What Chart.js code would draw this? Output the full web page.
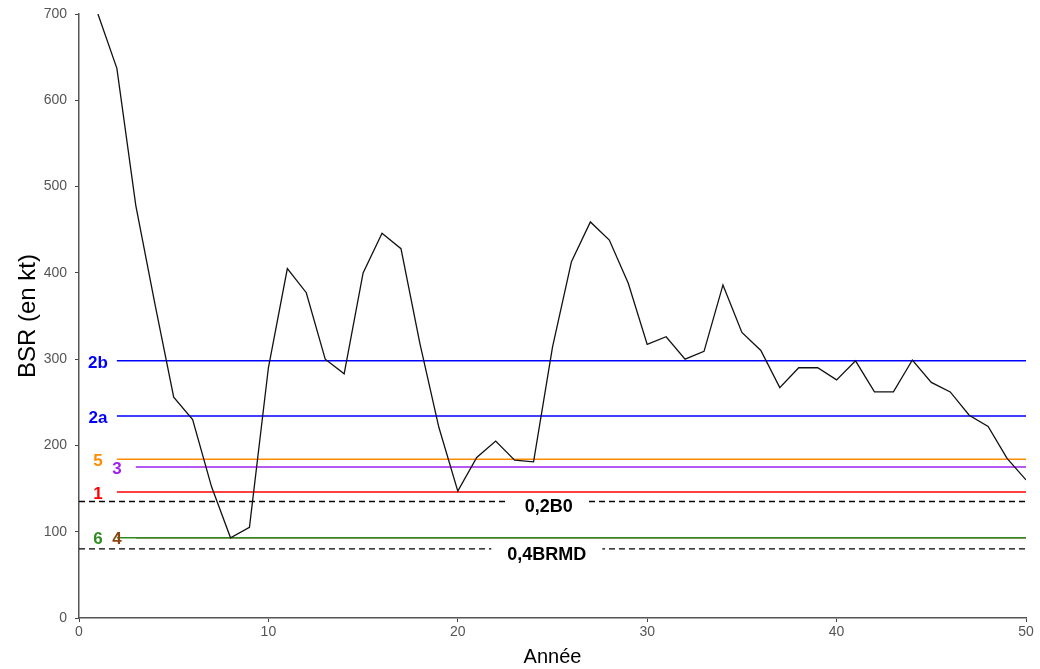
<!DOCTYPE html>
<html>
<head>
<meta charset="utf-8">
<script src="https://cdn.jsdelivr.net/npm/chart.js@4"></script>
<style>
  html, body { margin: 0; padding: 0; background: #fff; }
  #wrap { width: 1040px; height: 669px; }
</style>
</head>
<body>
<div id="wrap"><canvas id="myChart" width="1040" height="669"></canvas></div>
<script>
// données
const annees = [];
for (let i = 1; i <= 50; i++) annees.push(i);
const bsr = [700, 637, 478, 365, 256, 230, 152, 93, 105, 290,
             405, 377, 300, 283, 400, 446, 428, 318, 221, 147,
             186, 205, 183, 181, 314, 413, 459, 438, 388, 317,
             326, 300, 309, 386, 331, 310, 267, 290, 290, 276,
             298, 262, 262, 299, 273, 262, 235, 222, 185, 160];

// seuils (nom, valeur, année de départ, couleur)
const seuilNoms = ['2b', '2a', '5', '3', '1', '6', '4'];
const seuilValeurs = [298, 234, 184, 175, 146, 93, 93];
const seuilDebut = [2, 2, 2, 3, 2, 2, 3];
const seuilCouleurs = ['#0000ff', '#0000ff', '#ff8c00', '#a020f0', '#ff0000', '#2e8b22', '#8b4513'];

// références pointillées
const refNoms = ['0,2B0', '0,4BRMD'];
const refValeurs = [135, 80];
const refLabelX = [24.8, 24.7];

const ctx = document.getElementById('myChart');

const datasets = [];
datasets.push({
  label: 'BSR',
  data: annees.map((a, i) => ({ x: a, y: bsr[i] })),
  borderColor: '#111',
  borderWidth: 1.3,
  pointRadius: 0,
  tension: 0
});
seuilNoms.forEach((nom, i) => {
  datasets.push({
    label: nom,
    data: [{ x: seuilDebut[i], y: seuilValeurs[i] }, { x: 50, y: seuilValeurs[i] }],
    borderColor: seuilCouleurs[i],
    borderWidth: 1.5,
    pointRadius: 0
  });
});
refNoms.forEach((nom, i) => {
  datasets.push({
    label: nom,
    data: [{ x: 0, y: refValeurs[i] }, { x: 50, y: refValeurs[i] }],
    borderColor: '#000',
    borderWidth: 1.3,
    borderDash: [6, 4],
    pointRadius: 0
  });
});

const etiquettes = {
  id: 'etiquettes',
  afterDatasetsDraw(chart) {
    const c = chart.ctx;
    const xs = chart.scales.x, ys = chart.scales.y;
    c.save();
    c.textBaseline = 'middle';
    c.textAlign = 'center';
    c.font = 'bold 17px "Liberation Sans", Arial, sans-serif';
    seuilNoms.forEach((nom, i) => {
      c.fillStyle = seuilCouleurs[i];
      c.fillText(nom, xs.getPixelForValue(seuilDebut[i] - 1), ys.getPixelForValue(seuilValeurs[i]) + 2);
    });
    c.font = 'bold 18px "Liberation Sans", Arial, sans-serif';
    refNoms.forEach((nom, i) => {
      const px = xs.getPixelForValue(refLabelX[i]);
      const py = ys.getPixelForValue(refValeurs[i]) + 6;
      const w = c.measureText(nom).width + 32;
      c.fillStyle = '#fff';
      c.fillRect(px - w / 2, py - 10, w, 20);
      c.fillStyle = '#000';
      c.fillText(nom, px, py);
    });
    c.restore();
  }
};

new Chart(ctx, {
  type: 'line',
  data: { datasets: datasets },
  plugins: [etiquettes],
  options: {
    responsive: false,
    animation: false,
    layout: { padding: { top: 14, right: 14, left: 0, bottom: 0 } },
    plugins: { legend: { display: false }, tooltip: { enabled: false } },
    scales: {
      x: {
        type: 'linear',
        min: 0, max: 50,
        ticks: { stepSize: 10, color: '#555', font: { size: 14, family: '"Liberation Sans", Arial' }, padding: 2, maxRotation: 0 },
        grid: { drawOnChartArea: false, drawTicks: true, tickLength: 4, tickColor: '#444' },
        border: { color: '#555', width: 1.5 },
        title: { display: true, text: 'Année', color: '#000', font: { size: 20, family: '"Liberation Sans", Arial' }, padding: { top: 0, bottom: 0 } },
        afterFit(scale) { scale.height = 51; scale.paddingRight = 0; scale.paddingLeft = 0; }
      },
      y: {
        min: 0, max: 700,
        ticks: { stepSize: 100, color: '#555', font: { size: 14, family: '"Liberation Sans", Arial' }, padding: 8 },
        grid: { drawOnChartArea: false, drawTicks: true, tickLength: 4, tickColor: '#444' },
        border: { color: '#555', width: 1.5 },
        title: { display: true, text: 'BSR (en kt)', color: '#000', font: { size: 24, family: '"Liberation Sans", Arial' }, padding: { top: 14, bottom: 0 } },
        afterFit(scale) { scale.width = 79; scale.paddingTop = 0; scale.paddingBottom = 0; }
      }
    }
  }
});
</script>
</body>
</html>
